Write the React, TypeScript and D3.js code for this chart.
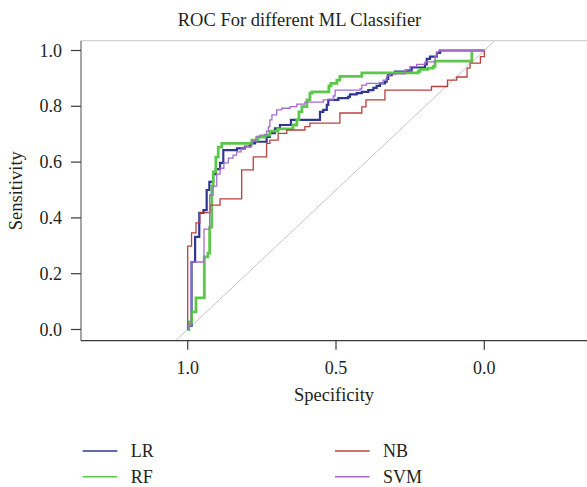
import React from "react";
import * as d3 from "d3";

// ---- data ----
const seriesNames = ["LR", "RF", "NB", "SVM"];
const seriesColors = ["#2f3795", "#5cc84b", "#b8413f", "#a56bcf"];
const seriesWidths = [2.2, 2.8, 1.3, 1.3];

const lrSpec = [1, 0.999, 0.987, 0.975, 0.961, 0.947, 0.936, 0.927, 0.914, 0.905, 0.891, 0.88, 0.834, 0.807, 0.79, 0.773, 0.734, 0.723, 0.706, 0.689, 0.652, 0.554, 0.543, 0.531, 0.526, 0.492, 0.459, 0.453, 0.43, 0.413, 0.391, 0.374, 0.363, 0.352, 0.335, 0.329, 0.324, 0.312, 0.301, 0.256, 0.245, 0.2, 0.194, 0.183, 0.16, 0.149, 0];
const lrSens = [0, 0.013, 0.242, 0.332, 0.418, 0.428, 0.5, 0.529, 0.557, 0.575, 0.597, 0.643, 0.649, 0.656, 0.667, 0.673, 0.69, 0.704, 0.721, 0.733, 0.751, 0.78, 0.787, 0.805, 0.823, 0.829, 0.834, 0.843, 0.847, 0.852, 0.858, 0.866, 0.873, 0.882, 0.888, 0.898, 0.912, 0.918, 0.924, 0.928, 0.939, 0.95, 0.97, 0.978, 0.991, 1, 1];

const rfSpec = [1, 0.996, 0.987, 0.972, 0.944, 0.932, 0.926, 0.919, 0.914, 0.905, 0.897, 0.885, 0.784, 0.763, 0.739, 0.723, 0.696, 0.645, 0.632, 0.625, 0.615, 0.598, 0.588, 0.581, 0.524, 0.517, 0.497, 0.487, 0.413, 0.223, 0.217, 0.19, 0.172, 0.166, 0.042, 0];
const rfSens = [0, 0.027, 0.063, 0.113, 0.26, 0.274, 0.367, 0.514, 0.565, 0.618, 0.654, 0.667, 0.679, 0.69, 0.697, 0.711, 0.719, 0.733, 0.751, 0.78, 0.799, 0.823, 0.847, 0.852, 0.873, 0.882, 0.894, 0.907, 0.92, 0.925, 0.932, 0.937, 0.943, 0.962, 1, 1];

const nbSpec = [1, 1, 0.987, 0.972, 0.959, 0.925, 0.891, 0.818, 0.779, 0.734, 0.723, 0.695, 0.666, 0.605, 0.588, 0.487, 0.413, 0.399, 0.335, 0.178, 0.124, 0.093, 0.058, 0.048, 0.013, 0];
const nbSens = [0, 0.299, 0.346, 0.382, 0.419, 0.446, 0.468, 0.572, 0.619, 0.667, 0.679, 0.703, 0.715, 0.727, 0.74, 0.776, 0.798, 0.823, 0.858, 0.871, 0.894, 0.905, 0.937, 0.955, 0.978, 1];

const svmSpec = [1, 0.999, 0.988, 0.945, 0.926, 0.914, 0.902, 0.891, 0.878, 0.863, 0.847, 0.835, 0.82, 0.807, 0.784, 0.77, 0.756, 0.734, 0.728, 0.723, 0.716, 0.7, 0.683, 0.655, 0.632, 0.605, 0.543, 0.509, 0.503, 0.419, 0.413, 0.397, 0.341, 0.329, 0.318, 0.267, 0.251, 0.228, 0.2, 0.166, 0.16, 0.153, 0];
const svmSens = [0, 0.013, 0.242, 0.36, 0.482, 0.514, 0.557, 0.578, 0.597, 0.614, 0.625, 0.637, 0.647, 0.655, 0.676, 0.69, 0.697, 0.711, 0.726, 0.751, 0.769, 0.787, 0.793, 0.799, 0.808, 0.815, 0.823, 0.837, 0.858, 0.862, 0.876, 0.882, 0.894, 0.909, 0.916, 0.931, 0.942, 0.95, 0.959, 0.977, 0.995, 1, 1];

const ySensTicks = [0, 0.2, 0.4, 0.6, 0.8, 1.0];
const xSpecTicks = [1.0, 0.5, 0.0];

const title = "ROC For different ML Classifier";
const xTitle = "Specificity";
const yTitle = "Sensitivity";

const specs = [lrSpec, rfSpec, nbSpec, svmSpec];
const senss = [lrSens, rfSens, nbSens, svmSens];

// ---- layout ----
const W = 587;
const H = 487;
const boxLeft = 81;
const boxTop = 40.7;
const boxBottom = 340.7;
const FONT = "'Liberation Serif', 'Times New Roman', serif";

export default function App() {
  const x = d3.scaleLinear().domain([1, 0]).range([187.7, 484.3]);
  const y = d3.scaleLinear().domain([0, 1]).range([329.5, 50.5]);

  const line = d3
    .line<[number, number]>()
    .x((d) => x(d[0]))
    .y((d) => y(d[1]))
    .curve(d3.curveStepAfter);

  const diag = d3
    .line<[number, number]>()
    .x((d) => x(d[0]))
    .y((d) => y(d[1]));

  const textColor = "#231f20";

  return (
    <div style={{ position: "fixed", left: 0, top: 0 }}>
      <svg width={W} height={H} style={{ display: "block", background: "#fff" }} fontFamily={FONT}>
        <defs>
          <clipPath id="plotclip">
            <rect x={boxLeft} y={boxTop} width={W - boxLeft} height={boxBottom - boxTop} />
          </clipPath>
        </defs>
        {/* title */}
        <text x={299.5} y={26} textAnchor="middle" fontSize={18.5} fill={textColor}>
          {title}
        </text>
        {/* frame */}
        <line x1={boxLeft} x2={W} y1={boxTop} y2={boxTop} stroke="#c8c8c8" strokeWidth={1} />
        <g clipPath="url(#plotclip)">
          <path d={diag([[1.1, -0.1], [-0.1, 1.1]]) || ""} stroke="#c4c4c4" strokeWidth={1} fill="none" />
          {seriesNames.map((name, i) => {
            const pts: [number, number][] = specs[i].map((s, j) => [s, senss[i][j]]);
            return (
              <path
                key={name}
                d={line(pts) || ""}
                fill="none"
                stroke={seriesColors[i]}
                strokeWidth={seriesWidths[i]}
                strokeLinejoin="miter"
              />
            );
          })}
        </g>
        <line x1={boxLeft} x2={boxLeft} y1={boxTop} y2={boxBottom} stroke="#6a6a6a" strokeWidth={1.2} />
        <line x1={boxLeft} x2={W} y1={boxBottom} y2={boxBottom} stroke="#3a3a3a" strokeWidth={1.2} />
        {/* y ticks */}
        {ySensTicks.map((t) => (
          <g key={"y" + t}>
            <line x1={boxLeft - 10} x2={boxLeft} y1={y(t)} y2={y(t)} stroke="#3a3a3a" strokeWidth={1.2} />
            <text x={62} y={y(t) + 6} textAnchor="end" fontSize={18} fill={textColor}>
              {t.toFixed(1)}
            </text>
          </g>
        ))}
        {/* x ticks */}
        {xSpecTicks.map((t) => (
          <g key={"x" + t}>
            <line x1={x(t)} x2={x(t)} y1={boxBottom} y2={boxBottom + 9} stroke="#3a3a3a" strokeWidth={1.2} />
            <text x={x(t)} y={373.5} textAnchor="middle" fontSize={18} fill={textColor}>
              {t.toFixed(1)}
            </text>
          </g>
        ))}
        <text x={334} y={400.5} textAnchor="middle" fontSize={18.5} fill={textColor}>
          {xTitle}
        </text>
        <text
          transform={`translate(22,${(boxTop + boxBottom) / 2}) rotate(-90)`}
          textAnchor="middle"
          fontSize={18.5}
          fill={textColor}
        >
          {yTitle}
        </text>
        {/* legend */}
        {seriesNames.map((name, i) => {
          const col = i === 0 || i === 1 ? 0 : 1;
          const row = i === 0 || i === 2 ? 0 : 1;
          const lx = col === 0 ? 82.7 : 335;
          const ly = row === 0 ? 451 : 476.7;
          return (
            <g key={"lg" + name}>
              <line x1={lx} x2={lx + 34.6} y1={ly} y2={ly} stroke={seriesColors[i]} strokeWidth={1.5} />
              <text x={lx + 48} y={ly + 6} fontSize={18} fill={textColor}>
                {name}
              </text>
            </g>
          );
        })}
      </svg>
    </div>
  );
}
